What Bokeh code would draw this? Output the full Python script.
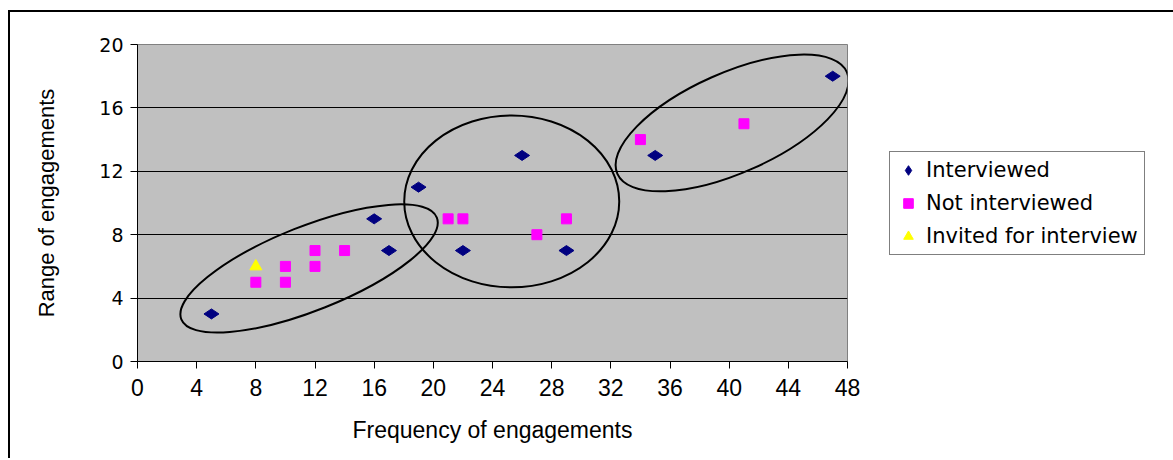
import math
from bokeh.plotting import figure
from bokeh.models import Range1d, FixedTicker, Legend, LegendItem
from bokeh.embed import file_html
from bokeh.resources import INLINE

# ---- data ----
interviewed_x = [5, 16, 17, 19, 22, 26, 29, 35, 47]
interviewed_y = [3, 9, 7, 11, 7, 13, 7, 13, 18]
not_interviewed_x = [8, 10, 10, 12, 12, 14, 21, 22, 27, 29, 34, 41]
not_interviewed_y = [5, 5, 6, 6, 7, 7, 9, 9, 8, 9, 14, 15]
invited_x = [8]
invited_y = [6]

x_ticks = [0, 4, 8, 12, 16, 20, 24, 28, 32, 36, 40, 44, 48]
y_ticks = [0, 4, 8, 12, 16, 20]

# cluster ellipses (centre in data units)
cluster_cx = [11.6, 25.3, 40.2]
cluster_cy = [5.87, 10.1, 15.05]

FRAME_W, FRAME_H = 710, 317
LEFT, TOP = 127, 32
W, H = 1162, 446

p = figure(width=W, height=H, output_backend="svg", toolbar_location=None,
           x_range=Range1d(0, 48), y_range=Range1d(0, 20),
           frame_width=FRAME_W, frame_height=FRAME_H,
           min_border_left=LEFT, min_border_top=TOP,
           min_border_right=W - LEFT - FRAME_W, min_border_bottom=H - TOP - FRAME_H)
p.styles = {"border-left": "2px solid black", "border-top": "2px solid black",
            "margin-top": "10px", "margin-left": "8px"}

p.background_fill_color = "#C0C0C0"
p.border_fill_color = "white"
p.outline_line_color = "#808080"
p.outline_line_width = 1

# axes
for ax in (p.xaxis[0], p.yaxis[0]):
    ax.axis_line_color = "black"
    ax.axis_line_width = 1
    ax.major_tick_line_color = "black"
    ax.major_tick_in = 0
    ax.major_tick_out = 7
    ax.minor_tick_line_color = None
    ax.major_label_text_color = "black"
    ax.axis_label_text_color = "black"
    ax.axis_label_text_font_style = "normal"

p.xaxis.ticker = FixedTicker(ticks=x_ticks)
p.yaxis.ticker = FixedTicker(ticks=y_ticks)
p.xaxis.axis_label = "Frequency of engagements"
p.yaxis.axis_label = "Range of engagements"
p.xaxis.major_label_text_font = "Liberation Sans"
p.xaxis.major_label_text_font_size = "23px"
p.xaxis.major_label_standoff = 10
p.xaxis.axis_label_text_font = "Liberation Sans"
p.xaxis.axis_label_text_font_size = "23px"
p.xaxis.axis_label_standoff = 18
p.yaxis.major_label_text_font = "DejaVu Sans"
p.yaxis.major_label_text_font_size = "19px"
p.yaxis.major_label_standoff = 7
p.yaxis.axis_label_text_font = "Liberation Sans"
p.yaxis.axis_label_text_font_size = "22px"
p.yaxis.axis_label_standoff = 37

# grid
p.xgrid.grid_line_color = None
p.ygrid.ticker = FixedTicker(ticks=[4, 8, 12, 16])
p.ygrid.grid_line_color = "black"
p.ygrid.grid_line_width = 1

# cluster ellipses
p.ellipse(x=[cluster_cx[0]], y=[cluster_cy[0]], width=275, height=84,
          width_units="screen", height_units="screen", angle=math.radians(21.7),
          fill_color=None, line_color="black", line_width=2)
p.ellipse(x=[cluster_cx[1]], y=[cluster_cy[1]], width=215, height=172,
          width_units="screen", height_units="screen", angle=0,
          fill_color=None, line_color="black", line_width=2)
p.ellipse(x=[cluster_cx[2]], y=[cluster_cy[2]], width=251, height=100,
          width_units="screen", height_units="screen", angle=math.radians(23.9),
          fill_color=None, line_color="black", line_width=2)

# points
r1 = p.scatter(interviewed_x, interviewed_y, marker="diamond", size=15,
               angle=math.pi / 2, fill_color="#000080", line_color="#000080")
r2 = p.scatter(not_interviewed_x, not_interviewed_y, marker="square", size=10,
               fill_color="#FF00FF", line_color="#FF00FF")
r3 = p.scatter(invited_x, invited_y, marker="triangle", size=12,
               fill_color="#FFFF00", line_color="#FFFF00")

legend = Legend(items=[LegendItem(label="Interviewed", renderers=[r1]),
                       LegendItem(label="Not interviewed", renderers=[r2]),
                       LegendItem(label="Invited for interview", renderers=[r3])],
                location=(42, 106))
legend.label_text_font = "DejaVu Sans"
legend.label_text_font_size = "21px"
legend.label_text_color = "black"
legend.glyph_height = 24
legend.glyph_width = 24
legend.label_height = 22
legend.label_width = 200
legend.spacing = 9
legend.padding = 6
legend.margin = 0
legend.label_standoff = 6
legend.border_line_color = "black"
legend.border_line_width = 1
legend.background_fill_color = "white"
legend.background_fill_alpha = 1
p.add_layout(legend, "right")

open("out.html", "w").write(file_html(p, INLINE))
